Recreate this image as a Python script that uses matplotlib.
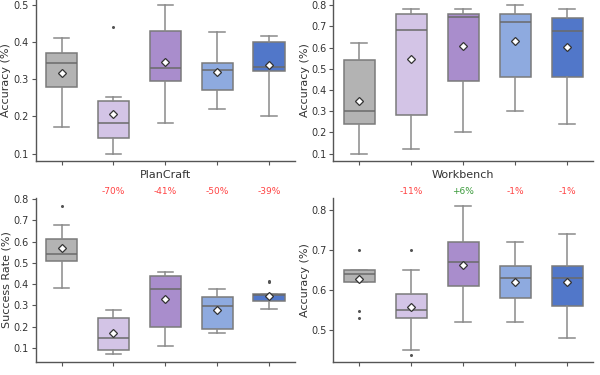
import matplotlib
matplotlib.use("Agg")
import matplotlib.pyplot as plt

colors = ["#b3b3b3", "#d3c4e6", "#a98dcc", "#8eaadf", "#5177c9"]

# summary stats per box: whislo, q1, med, q3, whishi, mean, fliers
plancraft_acc = [
    (0.171, 0.280, 0.344, 0.370, 0.410, 0.318, []),
    (0.100, 0.142, 0.182, 0.241, 0.251, 0.207, [0.440]),
    (0.181, 0.294, 0.330, 0.430, 0.500, 0.347, []),
    (0.221, 0.270, 0.324, 0.344, 0.428, 0.319, []),
    (0.200, 0.322, 0.334, 0.400, 0.415, 0.337, []),
]
workbench_acc = [
    (0.100, 0.240, 0.301, 0.540, 0.621, 0.350, []),
    (0.120, 0.281, 0.681, 0.759, 0.781, 0.546, []),
    (0.200, 0.441, 0.742, 0.760, 0.781, 0.609, []),
    (0.300, 0.460, 0.720, 0.760, 0.800, 0.632, []),
    (0.241, 0.460, 0.680, 0.740, 0.780, 0.604, []),
]
plancraft_sr = [
    (0.380, 0.510, 0.540, 0.610, 0.678, 0.568, [0.767]),
    (0.070, 0.091, 0.149, 0.239, 0.279, 0.170, []),
    (0.111, 0.200, 0.379, 0.440, 0.459, 0.332, []),
    (0.172, 0.191, 0.299, 0.338, 0.379, 0.280, []),
    (0.282, 0.321, 0.349, 0.352, 0.352, 0.346, [0.416, 0.408]),
]
workbench_acc2 = [
    (0.620, 0.621, 0.640, 0.650, 0.650, 0.629, [0.700, 0.549, 0.530]),
    (0.451, 0.531, 0.551, 0.591, 0.650, 0.557, [0.700, 0.439]),
    (0.521, 0.611, 0.670, 0.719, 0.811, 0.664, []),
    (0.521, 0.581, 0.630, 0.660, 0.720, 0.621, []),
    (0.480, 0.561, 0.630, 0.660, 0.740, 0.621, []),
]
sr_changes = ["-70%", "-41%", "-50%", "-39%"]
wb_changes = ["-11%", "+6%", "-1%", "-1%"]


def to_stats(rows):
    return [dict(whislo=r[0], q1=r[1], med=r[2], q3=r[3], whishi=r[4],
                 mean=r[5], fliers=r[6]) for r in rows]


def draw(ax, rows, ylim, ylabel, ticks, label_x):
    bp = ax.bxp(to_stats(rows), positions=range(1, 6), widths=0.6,
                patch_artist=True, showmeans=True,
                boxprops=dict(edgecolor="#7a7a7a", linewidth=1.1),
                whiskerprops=dict(color="#8a8a8a", linewidth=1.1),
                capprops=dict(color="#8a8a8a", linewidth=1.1),
                medianprops=dict(color="#6a6a6a", linewidth=1.1),
                meanprops=dict(marker="D", markerfacecolor="white",
                               markeredgecolor="#333333", markersize=4.5,
                               markeredgewidth=0.9),
                flierprops=dict(marker="o", markerfacecolor="#555555",
                                markeredgecolor="#555555", markersize=1.2))
    for patch, c in zip(bp["boxes"], colors):
        patch.set_facecolor(c)
    ax.set_xlim(0.5, 5.5)
    ax.set_ylim(*ylim)
    ax.set_yticks(ticks)
    ax.set_xticks(range(1, 6))
    ax.set_xticklabels([])
    ax.set_ylabel(ylabel, fontsize=8, color="#333333")
    ax.yaxis.set_label_coords(label_x, 0.5)
    ax.tick_params(axis="both", labelsize=7, colors="#555555", length=3,
                   labelcolor="#333333", pad=2)
    for s in ["top", "right"]:
        ax.spines[s].set_visible(False)
    for s in ["left", "bottom"]:
        ax.spines[s].set_color("#555555")
        ax.spines[s].set_linewidth(1.0)


def annotate(ax, labels):
    for i, lab in enumerate(labels):
        col = "#3a9a3a" if lab.startswith("+") else "#ff4444"
        ax.annotate(lab, xy=(i + 2, 1.0), xycoords=("data", "axes fraction"),
                    xytext=(0, 1.5), textcoords="offset points",
                    ha="center", va="bottom", fontsize=6.5, color=col)


fig = plt.figure(figsize=(6, 3.75), dpi=100)
ax1 = fig.add_axes([0.0595, 0.5707, 0.432, 0.4293])
ax2 = fig.add_axes([0.5555, 0.5707, 0.4333, 0.4293])
ax3 = fig.add_axes([0.0595, 0.0355, 0.432, 0.4357])
ax4 = fig.add_axes([0.5555, 0.0355, 0.4333, 0.4357])

draw(ax1, plancraft_acc, (0.08, 0.513), "Accuracy (%)",
     [0.1, 0.2, 0.3, 0.4, 0.5], -0.095)
draw(ax2, workbench_acc, (0.065, 0.824), "Accuracy (%)",
     [0.1, 0.2, 0.3, 0.4, 0.5, 0.6, 0.7, 0.8], -0.09)
draw(ax3, plancraft_sr, (0.036, 0.803), "Success Rate (%)",
     [0.1, 0.2, 0.3, 0.4, 0.5, 0.6, 0.7, 0.8], -0.095)
draw(ax4, workbench_acc2, (0.422, 0.829), "Accuracy (%)",
     [0.5, 0.6, 0.7, 0.8], -0.09)

ax1.set_xlabel("PlanCraft", fontsize=8, color="#333333", labelpad=1.5)
ax2.set_xlabel("Workbench", fontsize=8, color="#333333", labelpad=1.5)

annotate(ax3, sr_changes)
annotate(ax4, wb_changes)

fig.savefig("out.png", dpi=100)
